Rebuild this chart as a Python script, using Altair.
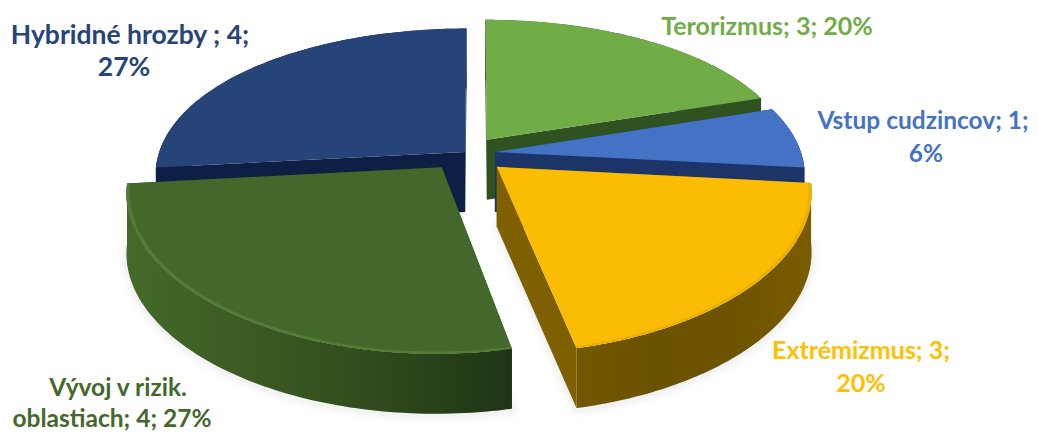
import math
import altair as alt

# ---- data
categories = ["Terorizmus", "Vstup cudzincov", "Extrémizmus", "Vývoj v rizik. oblastiach", "Hybridné hrozby"]
values = [3, 1, 3, 4, 4]
percents = [20, 6, 20, 27, 27]
label_lines = [
    ["Terorizmus; 3; 20%"],
    ["Vstup cudzincov; 1;", "6%"],
    ["Extrémizmus; 3;", "20%"],
    ["Vývoj v rizik.", "oblastiach; 4; 27%"],
    ["Hybridné hrozby ; 4;", "27%"],
]

# ---- styles
top_colors = ["#70ad47", "#4472c4", "#fbbc04", "#43682b", "#264478"]
label_colors = ["#70ad47", "#4472c4", "#ffc000", "#43682b", "#264478"]
face_colors = ["#2f5220", "#1c3468", "#7f6000", "#23391a", "#0e1f45"]
wall_stops = [["#2f5220", "#2f5220"], ["#1c3468", "#1c3468"], ["#735700", "#6b5200", "#6e5300", "#7a5c00"],
              ["#446a2a", "#3a5a22", "#2f4a1c", "#1f3415"], ["#0e1f45", "#0e1f45"]]
rim_colors = [None, None, "#eeb000", "#527c36", None]
explode = [(0.039, -0.085), (0.065, 0.0), (0.07, 0.10), (-0.107, 0.103), (-0.032, 0.0)]
paint_order = [0, 4, 1, 2, 3]
label_pos = [[(767, 27)], [(923, 122), (926, 155)], [(861, 351), (861, 384)],
             [(118, 389), (112, 420)], [(130, 36), (124, 68)]]
label_size = [25, 24.5, 25, 24.5, 26.5]

CX, CY, A, B, PX, PY, H = 475.0, 152.0, 306.0, 146.0, 0.15, 0.183, 60.0
FONT = "Lato"


def project(u, v, drop=0.0):
    return [CX + A * u / (1.0 - PX * v), CY + B * v / (1.0 - PY * v) + drop]


def rim(i, deg, r=1.0):
    a = math.radians(deg)
    return (explode[i][0] + r * math.sin(a), explode[i][1] - r * math.cos(a))


def poly(pts):
    return {"type": "Feature",
            "geometry": {"type": "Polygon", "coordinates": [pts + [pts[0]]]},
            "properties": {}}


proj = dict(type="identity", scale=1, translate=[-8, -8])


def shape(feats, paint, **kw):
    return alt.Chart(alt.Data(values=feats)).mark_geoshape(fill=paint, stroke=None, **kw).project(**proj)


def gradient(stops):
    n = len(stops) - 1
    return alt.LinearGradient(
        gradient="linear", x1=0, x2=1, y1=0, y2=0,
        stops=[alt.GradientStop(offset=k / n, color=c) for k, c in enumerate(stops)],
    )


total = sum(values)
starts, s = [], 0.0
for val in values:
    starts.append(s)
    s += val / total * 360.0

layers, shadow = [], []
slice_layers = []
for i in paint_order:
    a0, a1 = starts[i], starts[i] + values[i] / total * 360.0
    steps = [a0 + (a1 - a0) * t / 90 for t in range(91)]
    apex = explode[i]
    outer = [project(*rim(i, d)) for d in steps]
    faces = []
    for deg in (a0, a1):
        u, v = rim(i, deg)
        faces.append(poly([project(*apex), project(u, v), project(u, v, H), project(*apex, H)]))
    slice_layers.append(shape(faces, face_colors[i]))
    wall = outer + [project(*rim(i, d), H) for d in reversed(steps)]
    slice_layers.append(shape([poly(wall)], gradient(wall_stops[i])))
    slice_layers.append(shape([poly([project(*apex)] + outer)], top_colors[i]))
    if rim_colors[i]:
        inner = [project(*rim(i, d, 0.99)) for d in reversed(steps)]
        slice_layers.append(shape([poly(outer + inner)], rim_colors[i]))
    if i in (2, 3):
        shadow.append(poly([project(*rim(i, d), H + 2) for d in steps] + [project(*apex, H)]))

for width, op in ((16, 0.012), (10, 0.016), (5, 0.02)):
    layers.append(
        alt.Chart(alt.Data(values=shadow)).mark_geoshape(
            fill="#000000", fillOpacity=0.0, stroke="#000000", strokeWidth=width,
            strokeOpacity=op, strokeJoin="round").project(**proj)
    )
layers += slice_layers
for i, lines in enumerate(label_lines):
    for line, (x, y) in zip(lines, label_pos[i]):
        layers.append(
            alt.Chart(alt.Data(values=[{"t": line}])).mark_text(
                font=FONT, fontSize=label_size[i], fontWeight="bold", color=label_colors[i],
                align="center", baseline="middle").encode(
                text="t:N", x=alt.value(x - 8), y=alt.value(y - 8))
        )

chart = alt.layer(*layers).properties(
    width=1022, height=426, padding=0, autosize=alt.AutoSizeParams(type="none"),
).configure_view(stroke=None)

chart.save("out.html", embed_options={"renderer": "svg", "actions": False})
